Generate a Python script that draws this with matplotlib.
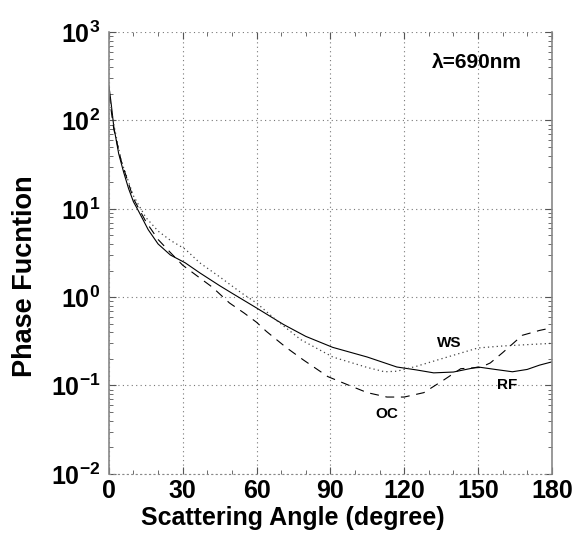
import matplotlib
matplotlib.use("Agg")
import matplotlib.pyplot as plt
from matplotlib.ticker import FixedLocator, LogLocator, NullFormatter

plt.rcParams['font.family'] = ['Liberation Sans', 'DejaVu Sans']
plt.rcParams['font.weight'] = 'bold'
plt.rcParams['mathtext.fontset'] = 'custom'
plt.rcParams['mathtext.rm'] = 'Liberation Sans:bold'
plt.rcParams['mathtext.bf'] = 'Liberation Sans:bold'

# RF (solid)
rf_angle = [0, 1, 2, 4, 6, 8, 10, 12, 16, 20, 25, 31, 37, 45, 50, 60, 71, 80, 91, 105,
            117, 125, 132, 140, 150, 157, 164, 170, 175, 180]
rf_value = [250, 150, 85, 42, 26, 17, 12, 9.5, 5.8, 4.0, 3.0, 2.45, 1.88, 1.35, 1.11, 0.755,
            0.49, 0.36, 0.27, 0.21, 0.162, 0.15, 0.139, 0.142, 0.162, 0.152, 0.143, 0.152, 0.17, 0.185]

# WS (dotted)
ws_angle = [0, 2, 5, 10, 15, 20, 25, 31, 37, 45, 54, 60, 68, 78, 91, 105, 112, 117, 125,
            135, 150, 160, 170, 180]
ws_value = [200, 90, 35, 14, 8.0, 5.6, 4.4, 3.5, 2.44, 1.7, 1.11, 0.86, 0.55, 0.33, 0.21,
            0.16, 0.143, 0.145, 0.165, 0.2, 0.266, 0.28, 0.29, 0.30]

# OC (dashed)
oc_angle = [0, 2, 5, 10, 15, 20, 25, 30, 38, 42, 49, 55, 60, 64, 72, 79, 89, 97, 105, 113,
            120, 128, 136, 143, 151, 155, 160, 168, 175, 180]
oc_value = [200, 80, 35, 13, 7.2, 4.5, 3.2, 2.3, 1.57, 1.3, 0.86, 0.66, 0.52, 0.41, 0.27,
            0.195, 0.126, 0.102, 0.083, 0.074, 0.074, 0.083, 0.115, 0.155, 0.16, 0.18,
            0.235, 0.37, 0.42, 0.45]

x_ticks = [0, 30, 60, 90, 120, 150, 180]
y_ticks = [1e-2, 1e-1, 1e0, 1e1, 1e2, 1e3]
y_labels = ['$10^{-2}$', '$10^{-1}$', '$10^{0}$', '$10^{1}$', '$10^{2}$', '$10^{3}$']

fig = plt.figure(figsize=(5.76, 5.36), dpi=100)
ax = fig.add_axes([0.189, 0.116, 0.769, 0.824])

ax.plot(rf_angle, rf_value, color='black', linewidth=0.8, linestyle='-')
ax.plot(ws_angle, ws_value, color='#444444', linewidth=0.9, linestyle=(0, (1, 2.5)))
ax.plot(oc_angle, oc_value, color='black', linewidth=0.8, linestyle=(0, (8, 6)))

ax.set_yscale('log')
ax.set_xlim(0, 180)
ax.set_ylim(1e-2, 1e3)

ax.set_xticks(x_ticks)
ax.set_xticklabels([str(t) for t in x_ticks])
ax.xaxis.set_minor_locator(FixedLocator(range(0, 181, 10)))
ax.set_yticks(y_ticks)
ax.set_yticklabels(y_labels)
ax.yaxis.set_minor_locator(LogLocator(base=10, subs=range(2, 10)))
ax.yaxis.set_minor_formatter(NullFormatter())

ax.tick_params(axis='both', which='both', direction='in', top=True, right=True,
               color='#555555')
ax.tick_params(axis='both', which='major', length=5, labelsize=18, pad=6)
ax.tick_params(axis='both', which='minor', length=3)
ax.tick_params(axis='x', which='major', pad=4)

ax.grid(True, which='major', color='#777777', linestyle=(0, (1, 3)), linewidth=0.8)

for side in ['left', 'right']:
    ax.spines[side].set_color('#888888')
    ax.spines[side].set_linewidth(1.2)
ax.spines['top'].set_visible(False)
ax.spines['bottom'].set_color('#888888')
ax.spines['bottom'].set_linestyle((0, (1, 3)))
ax.spines['bottom'].set_linewidth(0.8)

ax.set_xlabel('Scattering Angle (degree)', fontsize=18, fontweight='bold')
ax.xaxis.set_label_coords(0.415, -0.072)
ax.set_ylabel('Phase Fucntion', fontsize=19.5, fontweight='bold')
ax.yaxis.set_label_coords(-0.16, 0.448)

ax.text(149.5, 450, 'λ=690nm', fontsize=15, ha='center', va='center')
ax.text(138.5, 0.30, 'WS', fontsize=11, ha='center', va='center')
ax.text(162, 0.10, 'RF', fontsize=11, ha='center', va='center')
ax.text(113, 0.048, 'OC', fontsize=11, ha='center', va='center')

fig.savefig('out.png', dpi=100)
